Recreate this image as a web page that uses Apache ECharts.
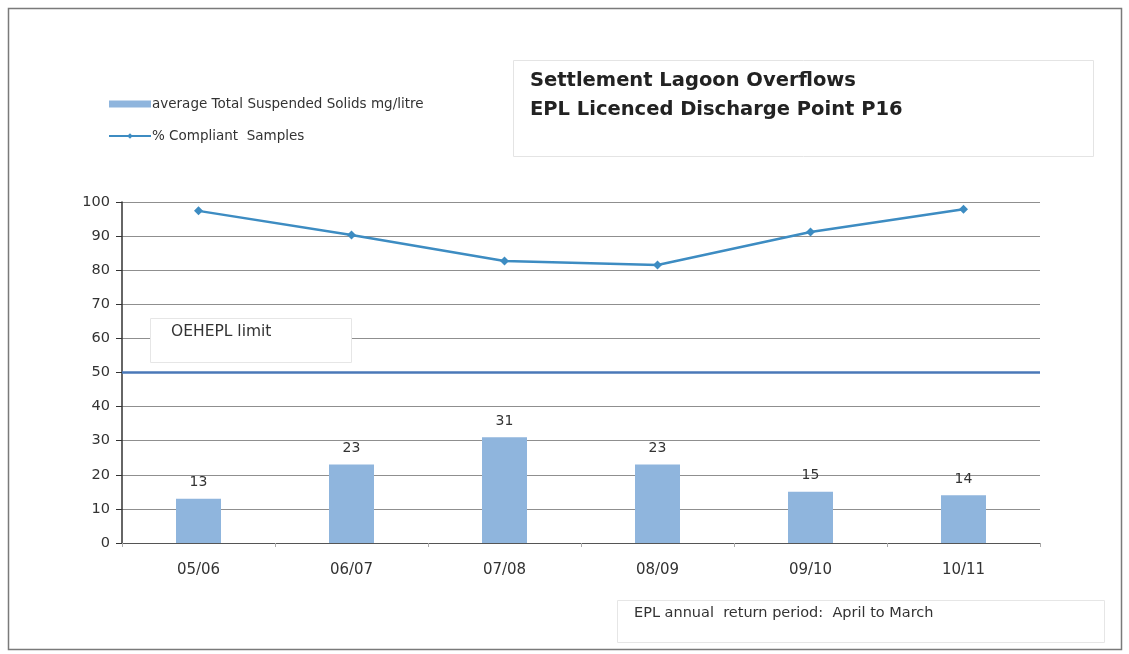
<!DOCTYPE html>
<html>
<head>
<meta charset="utf-8">
<script src="https://cdn.jsdelivr.net/npm/echarts@6/dist/echarts.min.js"></script>
<style>
  html, body { margin: 0; padding: 0; background: #fff; }
  #chart { width: 1129px; height: 654px; }
</style>
</head>
<body>
<div id="chart"></div>
<script>
// Reporting years (April to March)
const years = ['05/06', '06/07', '07/08', '08/09', '09/10', '10/11'];
// Average total suspended solids, mg/litre
const tssAverage = [13, 23, 31, 23, 15, 14];
// Percentage of compliant samples
const compliantPct = [97.4, 90.3, 82.7, 81.5, 91.2, 97.9];
// OEH EPL limit, mg/litre
const eplLimit = 50;
// Value axis ticks
const yTicks = { min: 0, max: 100, interval: 10 };

const chart = echarts.init(document.getElementById('chart'), null, { renderer: 'canvas' });

chart.setOption({
  animation: false,
  backgroundColor: '#fff',
  grid: { left: 122, right: 89, top: 202, bottom: 111, containLabel: false },
  legend: {
    orient: 'vertical',
    left: 103,
    top: 92,
    itemGap: 18,
    itemWidth: 42,
    itemHeight: 7,
    textStyle: { fontFamily: 'DejaVu Sans', fontSize: 13.5, color: '#333', padding: [0, 0, 0, -4] },
    data: [
      { name: 'average Total Suspended Solids mg/litre', icon: 'rect' },
      { name: '% Compliant  Samples' }
    ]
  },
  xAxis: {
    type: 'category',
    data: years,
    axisLine: { lineStyle: { color: '#555', width: 1 } },
    axisTick: { show: true, alignWithLabel: false, length: 4, lineStyle: { color: '#aaa' } },
    axisLabel: { margin: 20, fontFamily: 'DejaVu Sans', fontSize: 15, color: '#333' },
    splitLine: { show: false }
  },
  yAxis: {
    type: 'value',
    min: yTicks.min,
    max: yTicks.max,
    interval: yTicks.interval,
    axisLine: { show: true, lineStyle: { color: '#333', width: 1.5 } },
    axisTick: { show: true, length: 6, lineStyle: { color: '#333' } },
    axisLabel: { margin: 12, fontFamily: 'DejaVu Sans', fontSize: 14.5, color: '#333' },
    splitLine: { show: true, lineStyle: { color: '#8f8f8f', width: 1 } }
  },
  series: [
    {
      name: 'average Total Suspended Solids mg/litre',
      type: 'bar',
      data: tssAverage,
      barWidth: 45,
      itemStyle: { color: '#8fb5dd' },
      label: {
        show: true,
        position: 'top',
        distance: 9,
        fontFamily: 'DejaVu Sans',
        fontSize: 14,
        color: '#333'
      },
      markLine: {
        silent: true,
        symbol: ['none', 'none'],
        label: { show: false },
        lineStyle: { color: '#4a78b8', width: 2.5, type: 'solid' },
        data: [{ yAxis: eplLimit }]
      },
      z: 2
    },
    {
      name: '% Compliant  Samples',
      type: 'line',
      data: compliantPct,
      symbol: 'diamond',
      symbolSize: 9,
      lineStyle: { color: '#3d8cc2', width: 2.5 },
      itemStyle: { color: '#3d8cc2' },
      z: 3
    }
  ],
  graphic: [
    // outer frame
    {
      type: 'rect',
      shape: { x: 8.5, y: 8.5, width: 1113, height: 641 },
      style: { fill: 'none', stroke: '#7a7a7a', lineWidth: 1.5 },
      silent: true
    },
    // title box
    {
      type: 'rect',
      shape: { x: 513.5, y: 60.5, width: 580, height: 96 },
      style: { fill: 'none', stroke: '#e4e4e4', lineWidth: 1 },
      silent: true
    },
    {
      type: 'text',
      left: 530,
      top: 66,
      style: {
        text: 'Settlement Lagoon Overflows\nEPL Licenced Discharge Point P16',
        fontFamily: 'DejaVu Sans',
        fontWeight: 'bold',
        fontSize: 19.5,
        lineHeight: 29,
        fill: '#222'
      }
    },
    // limit label box
    {
      type: 'rect',
      shape: { x: 150.5, y: 318.5, width: 201, height: 44 },
      style: { fill: '#fff', stroke: '#e6e6e6', lineWidth: 1 },
      silent: true,
      z: 5
    },
    {
      type: 'text',
      left: 171,
      top: 324,
      z: 6,
      style: {
        text: 'OEHEPL limit',
        fontFamily: 'DejaVu Sans',
        fontSize: 15.5,
        fill: '#333'
      }
    },
    // reporting period note
    {
      type: 'rect',
      shape: { x: 617.5, y: 600.5, width: 487, height: 42 },
      style: { fill: '#fff', stroke: '#e6e6e6', lineWidth: 1 },
      silent: true
    },
    {
      type: 'text',
      left: 634,
      top: 606,
      style: {
        text: 'EPL annual  return period:  April to March',
        fontFamily: 'DejaVu Sans',
        fontSize: 14.5,
        fill: '#333'
      }
    }
  ]
});
</script>
</body>
</html>
